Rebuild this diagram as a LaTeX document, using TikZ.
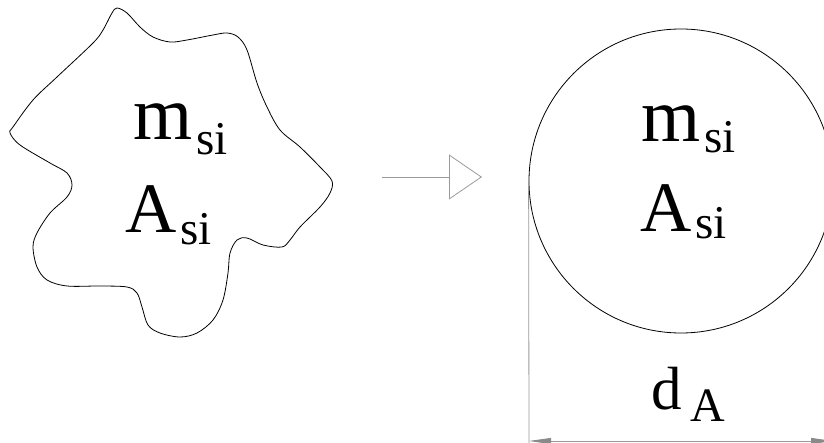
\documentclass[tikz,border=0pt]{standalone}
\usepackage{fontspec}
\setmainfont{Liberation Serif}
\usetikzlibrary{arrows.meta}
\definecolor{dimgray}{HTML}{9A9A9A}
\definecolor{tipgray}{HTML}{8A8A8A}
\tikzset{
  outline/.style={draw=black, line width=0.8pt},
  guide/.style={draw=dimgray, line width=0.8pt},
  lbl/.style={inner sep=0pt, outer sep=0pt, anchor=base west},
}
\newcommand{\bigsym}[3]{{\fontsize{#1}{#1}\selectfont #2}\kern4pt\raisebox{#3}{\fontsize{47}{47}\selectfont si}}
\begin{document}
\begin{tikzpicture}[x=1pt,y=-1pt]
\useasboundingbox (0,0) rectangle (824,443);
\clip (0,0) rectangle (824,443);
% irregular particle
\draw[outline] plot[smooth cycle, tension=0.55] coordinates {
 (117,8) (127,13) (140,27) (153,37) (170,42) (187,40) (213,35) (227,33)
 (238,37) (247,50) (257,83) (267,107) (280,130) (300,147) (320,167)
 (332,181) (330,193) (320,207) (300,227) (290,240) (282,247) (263,245)
 (247,238) (237,240) (230,253) (228,273) (223,300) (213,320) (197,333)
 (180,337) (160,333) (148,325) (142,307) (137,293) (127,287) (100,286)
 (67,286) (47,280) (37,267) (33,247) (37,233) (50,213) (67,197) (72,185)
 (67,173) (50,163) (20,145) (10,133) (13,127) (33,100) (57,77) (93,43)
 (103,30) (112,13)};
\node[lbl] (mL) at (133,140) {\bigsym{76}{m}{-15pt}};
\node[lbl] (AL) at (125,233) {\bigsym{71}{A}{-12pt}};
% equivalent circle
\node[outline, circle, minimum size=304pt, inner sep=0pt] (circ) at (681,181) {};
\node[lbl] (mR) at (641,142) {\bigsym{76}{m}{-11pt}};
\node[lbl] (AR) at (640,232) {\bigsym{71}{A}{-7pt}};
% transformation arrow
\coordinate (arS) at (382,177);
\coordinate (arE) at (482,177);
\draw[guide, -{Triangle[open, length=33pt, width=45pt]}] (arS) -- (arE);
% dimension
\coordinate (extT) at (circ.west);
\coordinate (extB) at (529,446);
\draw[guide] (extT) -- (extB);
\coordinate (dimL) at (529,441);
\coordinate (dimR) at (833,441);
\draw[guide, {Triangle[length=22pt, width=6pt, color=tipgray]}-{Triangle[length=22pt, width=6pt, color=tipgray]}] (dimL) -- (dimR);
\node[lbl] (dA) at (651,409) {{\fontsize{61}{61}\selectfont d}\kern9pt\raisebox{-12pt}{\fontsize{48}{48}\selectfont A}};
\end{tikzpicture}
\end{document}
